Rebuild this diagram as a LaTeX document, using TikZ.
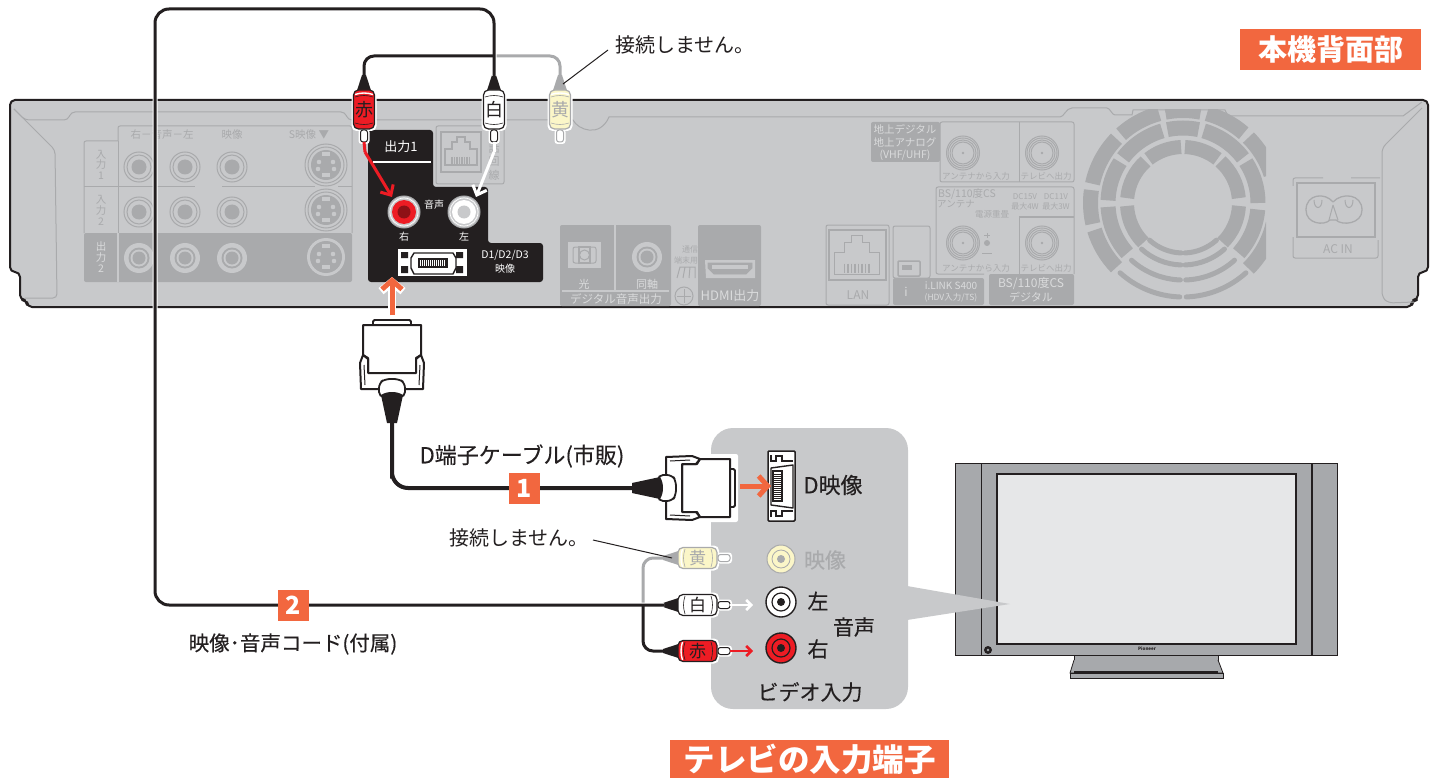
\documentclass[tikz,border=0pt]{standalone}
\usepackage{fontspec}
\setmainfont{Noto Sans CJK JP}
\newfontfamily\medf[FakeBold=0.25]{Noto Sans CJK JP}
\usetikzlibrary{arrows.meta,calc}
\definecolor{chassis}{HTML}{C8C9CB}
\definecolor{pdark}{HTML}{A9AAAC}
\definecolor{ink}{HTML}{231F20}
\definecolor{org}{HTML}{F2673F}
\definecolor{rd}{HTML}{ED1C24}
\definecolor{yel}{HTML}{FBF6C8}
\definecolor{plit}{HTML}{DADBDC}
\definecolor{scr}{HTML}{E6E7E8}
\definecolor{spk}{HTML}{A7A9AC}
\tikzset{
  pl/.style={draw=pdark,line width=1pt},
  ct/.style={text=pdark,inner sep=0pt},
  cw/.style={text=plit,inner sep=0pt},
  bk/.style={text=white,inner sep=0pt},
  lbl/.style={text=ink,inner sep=0pt,font=\fontsize{20}{22}\medf},
  cable/.style={draw=ink,line width=3pt,line cap=butt},
  gcable/.style={draw=pdark,line width=3pt},
  orangearrow/.style={draw=org,line width=5pt,-{Straight Barb[length=9pt,width=20pt,line width=5pt]}},
  orangehalo/.style={draw=white,line width=8pt,-{Straight Barb[length=9pt,width=22pt,line width=8pt]}},
  wirearrow/.style={line width=3pt,-{Straight Barb[length=8pt,width=15pt,line width=3pt]}},
  badge/.style={fill=org,text=white,inner sep=0pt,font=\fontsize{25}{25}\selectfont\bfseries,minimum size=31pt},
  banner/.style={fill=org,text=white,inner sep=0pt,font=\bfseries},
  leader/.style={draw=ink,line width=1pt},
}
\newcount\tc
\newcommand\tx[5]{\global\advance\tc by 1 \node[#1,font=\fontsize{#2}{#2}\selectfont,align=center] (tx\the\tc) at (#3,#4) {#5};}
% panel jack
\newcommand\pj[2]{\draw[pl,fill=chassis] (#1,#2) circle (15); \draw[pl,fill=chassis] (#1,#2) circle (12); \fill[pdark] (#1,#2) circle (7.5);}
\newcommand\pjd[2]{\fill[chassis] (#1,#2) circle (15); \fill[pdark] (#1,#2) circle (10.5); \fill[chassis] (#1,#2) circle (8.5); \fill[pdark] (#1,#2) circle (6.5);}
\newcommand\psv[2]{\draw[pl,fill=chassis] (#1,#2) circle (21); \draw[pl] (#1,#2) circle (18); \fill[pdark] (#1,#2) circle (15);
 \foreach \dx/\dy in {-7/-3,7/-3,-8/4,8/4}{\fill[chassis] ($(#1,#2)+(\dx,\dy)$) circle (2.3);}
 \fill[chassis] ($(#1,#2)+(-4,-13)$) rectangle ($(#1,#2)+(4,-9)$);
 \fill[chassis] ($(#1,#2)+(-4,8)$) rectangle ($(#1,#2)+(4,12)$);}
\newcommand\psvd[2]{\fill[chassis] (#1,#2) circle (19); \fill[pdark] (#1,#2) circle (16);
 \foreach \dx/\dy in {-7/-3,7/-3,-8/4,8/4}{\fill[chassis] ($(#1,#2)+(\dx,\dy)$) circle (2.3);}
 \fill[chassis] ($(#1,#2)+(-4,-13)$) rectangle ($(#1,#2)+(4,-9)$);
 \fill[chassis] ($(#1,#2)+(-4,8)$) rectangle ($(#1,#2)+(4,12)$);}
% antenna jack
\newcommand\ant[2]{\draw[pl] (#1,#2) ellipse (16.5 and 17); \draw[pl] (#1,#2) circle (15); \draw[pl] (#1,#2) circle (13); \draw[pl,fill=chassis] (#1,#2) circle (11); \fill[pdark] (#1,#2) circle (1.3);}
% RJ45 outline
\newcommand\rj[3]{\begin{scope}[shift={(#1,#2)},scale=#3]
 \draw[pl,line width=1.2pt,fill=chassis] (-16,12)--(-16,-4)--(-9,-4)--(-9,-11)--(-4,-11)--(-4,-16)--(4,-16)--(4,-11)--(9,-11)--(9,-4)--(16,-4)--(16,12)--cycle;
 \foreach \i in {-9,-6.5,...,9.5}{\draw[pdark,line width=1.3pt] (\i,4)--(\i,11);}
\end{scope}}
% RCA plug: local y runs from cable to tip
\newcommand\rca[9]{\begin{scope}[shift={(#2,#3)},rotate=#4]
 \coordinate (#1) at (0,1);
 \coordinate (#1-tip) at (0,67);
 \fill[white,rounded corners=5] (-12.5,11) rectangle (12.5,56);
 \fill[white,rounded corners=3] (-5.5,54) rectangle (5.5,69);
 \fill[#6] (-2,0)--(2,0)--(7.5,17)--(-7.5,17)--cycle;
 \draw[draw=#6,fill=#5,line width=1.2pt,rounded corners=5] (-10.5,15) rectangle (10.5,54);
 \draw[white,line width=1.4pt] (-9,19.5) .. controls (-3,17.5) and (3,17.5) .. (9,19.5);
 \draw[#6,line width=.6pt] (-9,22) .. controls (-3,20) and (3,20) .. (9,22);
 \draw[#6,line width=.6pt] (-9,48) .. controls (-3,50) and (3,50) .. (9,48);
 \node[text=#8,inner sep=0pt,font=\fontsize{#9}{16}\selectfont] (#1-label) at (0,34.5) {#7};
 \draw[draw=#6,fill=white,line width=1pt,rounded corners=2.5] (-3.5,55) rectangle (3.5,67);
 \end{scope}}
% D plug: local y from tab to cable
\newcommand\dplug[4]{\begin{scope}[shift={(#2,#3)},rotate=#4]
 \coordinate (#1) at (0,97);
 \coordinate (#1-front) at (0,-5);
 \fill[white,rounded corners=2] (-34,-8) rectangle (34,68);
 \draw[ink,line width=1.8pt,fill=white,rounded corners=1.5] (-19,0)--(-19,-5)--(19,-5)--(19,0);
 \draw[ink,line width=2pt,fill=white,line join=round] (-29,0)--(29,0)--(29,30)--(24,33)--(24,48)--(-24,48)--(-24,33)--(-29,30)--cycle;
 \draw[ink,line width=2pt,fill=white,line join=round] (-24,34)--(-29,30)--(-32,38)--(-31,64)--(31,64)--(32,38)--(29,30)--(24,34)--(24,48)--(-24,48)--cycle;
 \draw[ink,line width=1pt] (-28,40)--(-27,60);
 \draw[ink,line width=1pt] (28,40)--(27,60);
 \draw[ink,line width=1.8pt,fill=white,rounded corners=5] (-13,72)--(-13,58)--(-7,54)--(7,54)--(13,58)--(13,72)--cycle;
 \fill[ink] (-11,70)--(11,70)--(5,98)--(-5,98)--cycle;
 \fill[ink] (-11,70) .. controls (-5,66) and (5,66) .. (11,70)--cycle;
 \end{scope}}
\begin{document}
\begin{tikzpicture}[x=1pt,y=-1pt]
\useasboundingbox (0,0) rectangle (1437,778);
\fill[white] (0,0) rectangle (1437,778);
% ---------- chassis
\draw[ink,line width=2pt,fill=chassis,line join=round,rounded corners=5]
 (10,100) -- (1428,100) -- (1428,272) -- (1418,272) -- (1418,300) -- (1412,300) -- (1412,307) -- (27,307) -- (27,300) -- (20,300) -- (20,272) -- (10,272) -- cycle;
\draw[pl,rounded corners=4] (14,109)--(55,150)--(57,298)--(25,298);
\draw[pl,rounded corners=4] (14,109)--(25,120)--(68,120)--(71,112)--(345,112)--(348,120)--(573,120);
\draw[pl] (573,120) .. controls (578,130) and (600,138) .. (609,117) -- (1060,117) .. controls (1064,117) and (1066,108) .. (1072,108) -- (1107,108) .. controls (1110,108) and (1112,115) .. (1115,115) -- (1132,115)--(1133,110)--(1225,110)--(1228,116)--(1403,116)--(1422,102);
\draw[pl,rounded corners=5] (1422,108)--(1382,148)--(1382,297)--(1388,303)--(1414,302);
% left AV panel
\fill[pdark,rounded corners=2] (84,233) rectangle (352,282);
\draw[pl,rounded corners=2] (118,141)--(118,126)--(352,126)--(352,233);
\draw[pl,rounded corners=2] (118,141)--(84,141)--(84,233);
\draw[pl] (118,141)--(118,233);
\draw[pl] (84,187)--(195,187) (222,187)--(315,187) (338,187)--(352,187);
\draw[chassis,line width=1.2pt] (118,233)--(118,282);
\tx{ct}{10.5}{162}{135}{右－音声－左}
\tx{ct}{10.5}{232}{135}{映像}
\tx{ct}{10.5}{309}{135}{S映像 ▼}
\tx{ct}{10.5}{101}{155}{入}\tx{ct}{10.5}{101}{200}{入}
\tx{ct}{10.5}{101}{165}{力}\tx{ct}{10.5}{101}{176}{1}
\tx{ct}{10.5}{101}{211}{力}\tx{ct}{10.5}{101}{222}{2}
\tx{cw}{10.5}{101}{247}{出}\tx{cw}{10.5}{101}{258}{力}\tx{cw}{10.5}{101}{269}{2}
\foreach \x in {139,185,232}{\pj{\x}{167}\pj{\x}{212}\pjd{\x}{258}}
\psv{326}{165}\psv{326}{210}\psvd{326}{257}
% phone jack
\draw[pl,rounded corners=2] (436,126) rectangle (504,184);
\draw[pl,line width=1.5pt] (441,132) rectangle (481,172);
\rj{461}{153}{1}
\tx{ct}{11}{494}{148}{話}\tx{ct}{11}{494}{162}{回}\tx{ct}{11}{494}{175}{線}
% digital audio
\fill[pdark,rounded corners=2] (560,225) rectangle (671,306);
\draw[chassis,line width=1.2pt] (615,225)--(615,291);
\draw[chassis,line width=1.2pt] (562,291)--(669,291);
\fill[chassis] (568,242) rectangle (601,268);
\draw[pdark,line width=1pt,rounded corners=2] (573,247)--(596,247)--(596,263)--(573,263)--cycle;
\draw[pdark,line width=1pt] (584.5,255) circle (5);
\draw[pdark,line width=1.2pt] (579,247) rectangle (590,263);
\pjd{647}{257}
\tx{cw}{11}{584}{284}{光}
\tx{cw}{11}{647}{284}{同軸}
\tx{cw}{11.5}{616}{299}{デジタル音声出力}
\tx{ct}{8}{690}{249}{通信}
\tx{ct}{8}{686}{260}{端末用}
\draw[pl] (677,278)--(680,267)--(695,267)--(695,278) (685,267)--(683,278) (690,267)--(689,278);
\draw[pl] (684,296) circle (9);
\draw[pl] (684,289)--(684,303) (677,296)--(691,296);
% HDMI
\fill[pdark,rounded corners=2] (698,225) rectangle (761,306);
\fill[chassis] (705,260)--(755,260)--(755,278)--(706,278)--cycle;
\draw[pdark,fill=pdark,line width=.8pt] (708,263)--(752,263)--(752,268)--(746,274)--(714,274)--(708,268)--cycle;
\fill[chassis] (712,265) rectangle (748,269);
\tx{cw}{13}{730}{296}{HDMI出力}
% LAN
\draw[pl,rounded corners=2] (826,225) rectangle (889,305);
\draw[pl,line width=1.3pt] (829,230) rectangle (886,280);
\rj{857}{258}{1.4}
\tx{ct}{12}{858}{295}{LAN}
% iLINK
\draw[pl,rounded corners=2] (893,226) rectangle (930,278);
\fill[pdark,rounded corners=2] (893,278) rectangle (984,305);
\draw[pl,line width=1.5pt,rounded corners=1] (898,261) rectangle (920,276);
\fill[pdark] (902,265)--(912,265)--(912,270)--(902,270)--cycle;
\tx{cw}{12}{906}{292}{i}
\tx{cw}{10}{951}{286}{i.LINK S400}
\tx{cw}{8.5}{951}{298}{(HDV入力/TS)}
% antenna
\fill[pdark,rounded corners=2] (871,122) rectangle (940,162);
\draw[pl,rounded corners=2] (940,122) rectangle (1074,182);
\draw[pl] (1019,122)--(1019,182);
\tx{cw}{10.5}{905}{129}{地上デジタル}
\tx{cw}{10.5}{905}{142}{地上アナログ}
\tx{cw}{10.5}{905}{155}{(VHF/UHF)}
\ant{963}{153}\ant{1042}{153}
\tx{ct}{8.5}{976}{176}{アンテナから入力}
\tx{ct}{8.5}{1046}{176}{テレビへ出力}
\fill[pdark,rounded corners=2] (989,274) rectangle (1074,305);
\draw[pl,rounded corners=2] (984,274)--(936,274)--(936,187)--(1074,187)--(1074,274);
\draw[pl] (1019,274)--(1019,217)--(1074,217);
\tx{ct}{10.5}{967}{194}{BS/110度CS}
\tx{ct}{9.5}{956}{204}{アンテナ}
\tx{ct}{8.5}{992}{214}{電源重畳}
\tx{ct}{8}{1025}{197}{DC15V}\tx{ct}{8}{1025}{206}{最大4W}
\tx{ct}{8}{1056}{197}{DC11V}\tx{ct}{8}{1056}{206}{最大3W}
\ant{963}{243}\ant{1042}{243}
\draw[pl] (987,233)--(987,238) (984,235)--(990,235) (982,253)--(992,253);
\fill[pdark] (987,243) circle (3);
\tx{ct}{8.5}{976}{268}{アンテナから入力}
\tx{ct}{8.5}{1046}{268}{テレビへ出力}
\tx{cw}{12}{1031}{284}{BS/110度CS}
\tx{cw}{11}{1031}{297}{デジタル}
% fan
\begin{scope}
\clip (1070,110) rectangle (1266,305);
\begin{scope}[shift={(1183,203)},x=1pt,y=1pt]
\foreach \r/\w/\a/\b in {
 56/14/92/128,56/14/52/88,56/14/5/48,56/14/-45/-3,56/14/132/175,56/14/183/225,
 75/15/78/102,75/15/37/74,75/15/0/33,75/15/-42/-5,75/15/106/143,75/15/147/178,75/15/183/222,
 92.5/15/79/101,92.5/15/49/75,92.5/15/18/45,92.5/15/-45/-13,92.5/15/105/132,92.5/15/136/168,92.5/15/172/193,92.5/15/197/224}{
 \draw[pdark,line width=\w pt] (\a:\r pt) arc[start angle=\a,end angle=\b,radius=\r pt];}
\foreach \r in {50,62,77,94}{
 \draw[pdark,line width=5pt,line cap=round] (268:\r pt) arc[start angle=268,end angle=228,radius=\r pt];
 \draw[pdark,line width=5pt,line cap=round] (272:\r pt) arc[start angle=272,end angle=312,radius=\r pt];}
\end{scope}
\end{scope}
% AC IN
\draw[pl,rounded corners=2] (1293,186)--(1293,178)--(1323,178) (1351,178)--(1380,178);
\draw[pl,rounded corners=2] (1293,237)--(1293,258)--(1378,258)--(1378,240);
\draw[pl,line width=1.4pt] (1297,183) rectangle (1375,237);
\tx{ct}{12}{1338}{249}{AC IN}
\draw[pl,line width=1.3pt] (1333,202) .. controls (1325,192) and (1306,194) .. (1306,210) .. controls (1306,224) and (1324,226) .. (1330,220) -- (1336,220) .. controls (1342,226) and (1362,224) .. (1362,210) .. controls (1362,194) and (1342,192) .. (1333,202);
\draw[pl] (1333,205)--(1329,220) (1333,205)--(1338,220);
\draw[pl] (1314,200) .. controls (1314,210) and (1322,210) .. (1322,200);
\draw[pl] (1345,200) .. controls (1345,210) and (1353,210) .. (1353,200);
% output panel
\fill[ink,rounded corners=3] (368,130)--(433,130)--(433,187)--(488,187)--(488,243)--(543,243)--(543,282)--(368,282)--cycle;
\node[bk,font=\fontsize{13}{13}\selectfont] (out1) at (401,147) {出力1};
\draw[white,line width=1.5pt] (373,162)--(431,162);
\node[bk,font=\fontsize{10}{10}\selectfont] (onsei) at (434,205) {音声};
\node[bk,font=\fontsize{10}{10}\selectfont] (migi) at (404,237) {右};
\node[bk,font=\fontsize{10}{10}\selectfont] (hidari) at (464,237) {左};
\node[bk,font=\fontsize{10.5}{10}\selectfont] (d123) at (505,255) {D1/D2/D3};
\node[bk,font=\fontsize{10}{10}\selectfont] (dvid) at (505,269) {映像};
% rear jacks
\coordinate (jr) at (404,212);
\coordinate (jw) at (464,212);
\foreach \c/\m/\n in {jr/rd/rd!60!black,jw/white/chassis}{
 \draw[pdark,fill=chassis,line width=1pt] (\c) circle (16);
 \draw[white,line width=.7pt] (\c) circle (14);
 \fill[\m] (\c) circle (12);
 \fill[\n] (\c) circle (6.5);}
% rear D socket
\fill[white] (398,249) rectangle (467,276);
\fill[ink] (401,252) rectangle (408,258) (401,266) rectangle (408,273) (456,252) rectangle (463,258) (456,266) rectangle (463,273);
\draw[ink,line width=1.4pt,fill=white,line join=round] (411,258)--(414,253)--(453,253)--(456,258)--(456,268)--(453,274)--(414,274)--(411,268)--cycle;
\fill[ink] (418,258) rectangle (448,268);
\fill[white] (420,260) rectangle (446,266);
\foreach \i in {421,423,...,445}{\draw[ink,line width=.7pt] (\i,260)--(\i,266);}
% ---------- TV panel
\fill[chassis,rounded corners=22] (711,428) rectangle (908,709);
% TV
\fill[white] (954,462) rectangle (1339,680);
\draw[ink,line width=1pt,fill=spk] (955,463) rectangle (981,655);
\draw[ink,line width=1pt,fill=spk] (1312,463) rectangle (1337,655);
\draw[ink,line width=1pt,fill=spk] (981,463) rectangle (1311,655);
\draw[ink,line width=1.4pt,fill=scr] (997,474) rectangle (1296,644);
\draw[ink,line width=1pt,fill=spk] (1074,655)--(1218,655)--(1218,672)--(1074,672)--cycle;
\draw[ink,line width=.8pt,fill=spk] (1074,660)--(1070,673)--(1223,673)--(1218,660);
\draw[ink,line width=1pt,fill=spk] (1070,673) rectangle (1223,678);
\draw[ink,line width=1.4pt] (1074,672)--(1218,672);
\fill[ink] (988,650) circle (4);
\fill[spk] (988,650) circle (1.3);
\node[text=ink,inner sep=0pt,font=\fontsize{4.5}{5}\selectfont\bfseries\itshape] (pioneer) at (1147,649) {Pioneer};
\fill[chassis] (907,586)--(1010,604)--(907,620)--cycle;
% TV jacks
\coordinate (tjy) at (781,559);
\coordinate (tjw) at (781,602);
\coordinate (tjr) at (781,648);
\draw[pdark,fill=yel,line width=1pt] (tjy) circle (14);
\draw[pdark,line width=.8pt] (tjy) circle (9);
\fill[pdark] (tjy) circle (4);
\draw[ink,fill=white,line width=1.4pt] (tjw) circle (15);
\draw[ink,line width=1.2pt] (tjw) circle (9);
\fill[ink] (tjw) circle (4);
\draw[ink,fill=rd,line width=1.4pt] (tjr) circle (15);
\draw[ink,line width=1.2pt] (tjr) circle (9);
\fill[ink] (tjr) circle (4);
% TV D socket
\draw[ink,fill=white,line width=1.5pt,rounded corners=1] (768,451) rectangle (795,521);
\draw[ink,line width=1.2pt] (771,455)--(771,461)--(776,461)--(776,456)--(782,456)--(782,461)--(793,461) (771,517)--(771,511)--(776,511)--(776,516)--(782,516)--(782,511)--(793,511);
\draw[ink,line width=1.4pt,line join=round] (771,468)--(793,465)--(793,508)--(771,505)--cycle;
\fill[ink] (772,470) rectangle (783,502);
\fill[white] (774,472) rectangle (781,500);
\foreach \i in {474,476,...,498}{\draw[ink,line width=.7pt] (774,\i)--(781,\i);}
% labels in TV panel
\node[lbl,font=\fontsize{22}{22}\medf] (ldv) at (833,485) {D映像};
\node[lbl,text=pdark,font=\fontsize{21}{22}\medf] (lvid) at (825,560) {映像};
\node[lbl,font=\fontsize{21}{22}\medf] (ll) at (818,601) {左};
\node[lbl,font=\fontsize{21}{22}\medf] (la) at (854,627) {音声};
\node[lbl,font=\fontsize{21}{22}\medf] (lr) at (818,649) {右};
\node[lbl,font=\fontsize{21}{22}\medf] (lvin) at (810,692) {ビデオ入力};
% ---------- plugs
\rca{pR}{364}{75}{0}{rd}{ink}{赤}{ink}{18}
\rca{pW}{494}{75}{0}{white}{ink}{白}{ink}{18}
\rca{pY}{560}{75}{0}{yel}{pdark}{黄}{pdark}{18}
\rca{qY}{663}{558}{90}{yel}{pdark}{黄}{pdark}{17}
\rca{qW}{663}{605}{90}{white}{ink}{白}{ink}{17}
\rca{qR}{663}{651}{90}{rd}{ink}{赤}{ink}{17}
\dplug{dA}{392}{325}{0}
\dplug{dB}{730}{488}{-90}
% ---------- cables
\coordinate (rearTop) at (494,56);
\coordinate (c2a) at (155,9);
\coordinate (bend1) at (392,488);
\coordinate (c3) at (643,605);
\draw[gcable,rounded corners=10] (rearTop) -| (pY);
\draw[gcable,rounded corners=10] (c3) |- (qY);
\draw[white,line width=5pt,rounded corners=14] (pW) |- (c2a) |- (qW);
\draw[cable,rounded corners=14] (pW) |- (c2a) |- (qW);
\draw[cable,rounded corners=10] (pR) |- (rearTop);
\draw[cable,rounded corners=10] (c3) |- (qR);
\draw[cable,rounded corners=16,line width=4pt] (dA) |- (bend1) -- (dB);
% wires with arrows
\coordinate (wr) at (365,152);
\coordinate (ww) at (494,152);
\coordinate (wre) at (392,197);
\coordinate (wwe) at (476,197);
\coordinate (qwe) at (753,605);
\coordinate (qre) at (753,651);
\draw[rd,line width=3pt] (pR-tip)--(wr);
\draw[white,line width=3pt] (pW-tip)--(ww);
\draw[rd,wirearrow] (wr)--(wre);
\draw[white,wirearrow] (ww)--(wwe);
\draw[white,line width=2.5pt,-{Straight Barb[length=5pt,width=10pt,line width=2.5pt]}] (qW-tip)--(qwe);
\draw[rd,line width=2.5pt,-{Straight Barb[length=5pt,width=10pt,line width=2.5pt]}] (qR-tip)--(qre);
% orange arrows
\coordinate (oa1) at (392,315);
\coordinate (oa2) at (392,277);
\coordinate (ob1) at (740,486);
\coordinate (ob2) at (771,486);
\draw[orangehalo] (oa1)--(oa2);
\draw[orangearrow] (oa1)--(oa2);
\draw[orangearrow] (ob1)--(ob2);
% leaders & texts
\node[lbl,font=\fontsize{20}{20}\selectfont] (nc1) at (685,45) {接続しません。};
\node[lbl,font=\fontsize{20}{20}\selectfont] (nc2) at (519,538) {接続しません。};
\coordinate (l1) at (608,50);
\coordinate (l1e) at (563,84);
\coordinate (l2) at (593,540);
\coordinate (l2e) at (672,558);
\draw[leader] (l1)--(l1e);
\draw[leader] (l2)--(l2e);
\node[lbl,font=\fontsize{22}{22}\medf] (cab1) at (522,456) {D端子ケーブル(市販)};
\node[lbl,font=\fontsize{20.5}{22}\medf] (cab2) at (293,644) {映像･音声コード(付属)};
\node[badge] (b1) at (524,488) {1};
\node[badge] (b2) at (293,605) {2};
\node[banner,minimum width=181pt,minimum height=41pt,font=\fontsize{29}{29}\selectfont\bfseries] (t1) at (1330.5,49.5) {本機背面部};
\node[banner,minimum width=279pt,minimum height=38pt,font=\fontsize{31.5}{31.5}\selectfont\bfseries] (t2) at (809.5,759) {テレビの入力端子};
\end{tikzpicture}
\end{document}
